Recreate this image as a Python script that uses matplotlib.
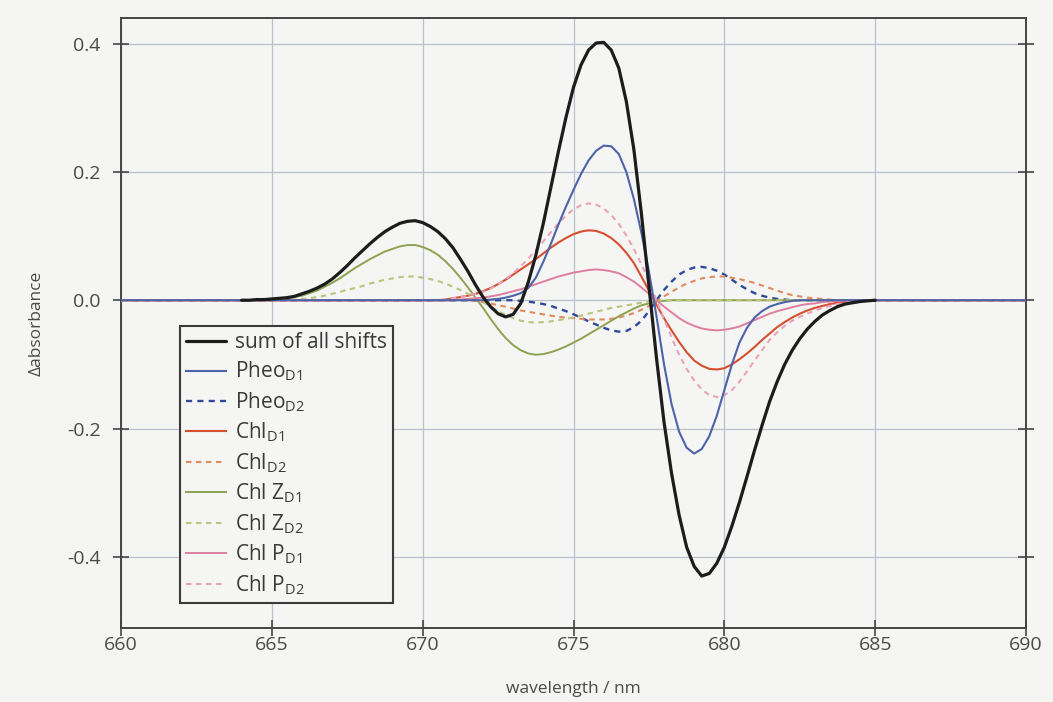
import numpy as np
import matplotlib
matplotlib.use("Agg")
import matplotlib.pyplot as plt
from matplotlib.ticker import FixedLocator, FuncFormatter

plt.rcParams["font.family"] = ["Open Sans", "DejaVu Sans"]
plt.rcParams["mathtext.fontset"] = "custom"
plt.rcParams["mathtext.rm"] = "Open Sans"
plt.rcParams["mathtext.default"] = "regular"

# wavelength grid (nm) on which the band-shift spectra are tabulated
STEP = 0.25
wavelength = np.arange(664.0, 686.0 + STEP / 2, STEP)

# sum of all electrochromic shifts, starting at 664.0 nm
sum_start = 664.0
sum_all = [0.000, 0.000, 0.001, 0.001, 0.002, 0.003, 0.004, 0.006, 0.010, 0.014,
           0.019, 0.025, 0.033, 0.043, 0.054, 0.066, 0.077, 0.088, 0.098, 0.107,
           0.114, 0.120, 0.123, 0.124, 0.121, 0.115, 0.107, 0.096, 0.082, 0.064,
           0.045, 0.024, 0.005, -0.010, -0.021, -0.026, -0.022, -0.005, 0.028, 0.070,
           0.120, 0.176, 0.232, 0.285, 0.332, 0.367, 0.390, 0.401, 0.402, 0.390,
           0.362, 0.310, 0.235, 0.135, 0.022, -0.090, -0.190, -0.270, -0.335, -0.385,
           -0.415, -0.430, -0.426, -0.410, -0.385, -0.352, -0.315, -0.275, -0.234, -0.195,
           -0.158, -0.127, -0.100, -0.078, -0.060, -0.045, -0.033, -0.023, -0.016, -0.010,
           -0.006, -0.004, -0.002, -0.001, 0.000]

# individual pigment contributions: first wavelength with signal, then values
pheo_d1_start = 672.25
pheo_d1 = [0.001, 0.002, 0.004, 0.007, 0.011, 0.019, 0.035, 0.060, 0.088, 0.118,
           0.146, 0.172, 0.197, 0.218, 0.233, 0.241, 0.240, 0.228, 0.200, 0.158,
           0.105, 0.045, -0.025, -0.100, -0.162, -0.205, -0.230, -0.239, -0.232, -0.212,
           -0.180, -0.140, -0.100, -0.066, -0.043, -0.027, -0.017, -0.010, -0.006, -0.003,
           -0.001]

pheo_d2_start = 673.25
pheo_d2 = [-0.001, -0.002, -0.004, -0.006, -0.009, -0.013, -0.017, -0.022, -0.027, -0.033,
           -0.038, -0.043, -0.047, -0.049, -0.048, -0.042, -0.032, -0.017, 0.000, 0.016,
           0.029, 0.040, 0.047, 0.051, 0.052, 0.050, 0.046, 0.040, 0.032, 0.024,
           0.017, 0.011, 0.007, 0.004, 0.002, 0.001]

chl_d1_start = 670.75
chl_d1 = [0.001, 0.003, 0.005, 0.007, 0.010, 0.014, 0.019, 0.025, 0.032, 0.040,
          0.048, 0.056, 0.064, 0.073, 0.082, 0.090, 0.097, 0.103, 0.107, 0.109,
          0.108, 0.104, 0.097, 0.087, 0.074, 0.058, 0.037, 0.015, -0.007, -0.028,
          -0.047, -0.065, -0.081, -0.094, -0.102, -0.107, -0.108, -0.106, -0.100, -0.092,
          -0.083, -0.073, -0.062, -0.052, -0.042, -0.034, -0.027, -0.021, -0.016, -0.012,
          -0.009, -0.006, -0.004, -0.003, -0.002, -0.001]

chl_d2_start = 671.75
chl_d2 = [-0.001, -0.003, -0.005, -0.008, -0.010, -0.013, -0.016, -0.018, -0.020, -0.022,
          -0.024, -0.026, -0.027, -0.028, -0.029, -0.030, -0.030, -0.030, -0.029, -0.027,
          -0.024, -0.020, -0.015, -0.009, -0.002, 0.006, 0.013, 0.020, 0.026, 0.030,
          0.034, 0.036, 0.037, 0.037, 0.035, 0.033, 0.030, 0.027, 0.023, 0.019,
          0.015, 0.011, 0.008, 0.006, 0.004, 0.003, 0.002, 0.001]

chlz_d1_start = 664.75
chlz_d1 = [0.000, 0.001, 0.002, 0.003, 0.005, 0.007, 0.011, 0.015, 0.021, 0.027,
           0.034, 0.042, 0.050, 0.057, 0.064, 0.070, 0.076, 0.080, 0.084, 0.086,
           0.086, 0.083, 0.078, 0.071, 0.061, 0.049, 0.035, 0.020, 0.004, -0.012,
           -0.029, -0.045, -0.059, -0.070, -0.078, -0.083, -0.085, -0.084, -0.081, -0.077,
           -0.072, -0.066, -0.060, -0.053, -0.046, -0.039, -0.032, -0.025, -0.019, -0.013,
           -0.008, -0.005, -0.002, -0.001]

chlz_d2_start = 665.25
chlz_d2 = [0.000, 0.001, 0.001, 0.002, 0.003, 0.005, 0.007, 0.010, 0.013, 0.016,
           0.019, 0.022, 0.026, 0.029, 0.032, 0.034, 0.036, 0.037, 0.037, 0.035,
           0.033, 0.030, 0.026, 0.021, 0.016, 0.010, 0.004, -0.003, -0.010, -0.017,
           -0.023, -0.028, -0.032, -0.034, -0.035, -0.034, -0.033, -0.031, -0.029, -0.027,
           -0.024, -0.021, -0.018, -0.015, -0.012, -0.010, -0.008, -0.006, -0.004, -0.002,
           -0.001]

chlp_d1_start = 671.25
chlp_d1 = [0.001, 0.002, 0.003, 0.004, 0.006, 0.008, 0.011, 0.014, 0.017, 0.021,
           0.025, 0.029, 0.033, 0.037, 0.040, 0.043, 0.045, 0.047, 0.048, 0.047,
           0.045, 0.042, 0.036, 0.029, 0.020, 0.010, 0.000, -0.010, -0.019, -0.028,
           -0.035, -0.040, -0.044, -0.046, -0.047, -0.046, -0.044, -0.041, -0.036, -0.031,
           -0.026, -0.021, -0.017, -0.014, -0.011, -0.008, -0.006, -0.005, -0.003, -0.002,
           -0.001, -0.001]

chlp_d2_start = 670.75
chlp_d2 = [0.001, 0.003, 0.005, 0.007, 0.010, 0.013, 0.018, 0.025, 0.033, 0.042,
           0.053, 0.065, 0.078, 0.092, 0.106, 0.120, 0.132, 0.142, 0.148, 0.151,
           0.149, 0.143, 0.133, 0.119, 0.101, 0.080, 0.056, 0.030, 0.000, -0.030,
           -0.058, -0.085, -0.107, -0.125, -0.139, -0.148, -0.151, -0.148, -0.140, -0.127,
           -0.111, -0.094, -0.078, -0.062, -0.050, -0.040, -0.032, -0.026, -0.021, -0.016,
           -0.012, -0.009, -0.006, -0.004, -0.002, -0.001]

x_ticks = [660, 665, 670, 675, 680, 685, 690]
y_ticks = [-0.4, -0.2, 0.0, 0.2, 0.4]
x_limits = (660, 690)
y_limits = (-0.511, 0.440)


def on_grid(start, values):
    """Place a spectrum on the common wavelength grid (zero elsewhere)."""
    full = np.zeros_like(wavelength)
    i0 = int(round((start - wavelength[0]) / STEP))
    full[i0:i0 + len(values)] = values
    return full


def padded(y):
    """Extend a component spectrum with its zero baseline to the axis limits."""
    return (np.concatenate([[x_limits[0]], wavelength, [x_limits[1]]]),
            np.concatenate([[0.0], y, [0.0]]))


bg = "#f5f5f4"
text_col = "#4a4a4a"

fig = plt.figure(figsize=(10.53, 7.02), dpi=100, facecolor=bg)
ax = fig.add_axes([0.1149, 0.1054, 0.8595, 0.869])
ax.set_facecolor(bg)

components = [
    (pheo_d1_start, pheo_d1, "Pheo$_{D1}$", "#4d63a8", "-", 1.5, 6),
    (pheo_d2_start, pheo_d2, "Pheo$_{D2}$", "#2f4a98", "--", 1.7, 3),
    (chl_d1_start, chl_d1, "Chl$_{D1}$", "#d5502f", "-", 1.5, 3),
    (chl_d2_start, chl_d2, "Chl$_{D2}$", "#e28a5e", "--", 1.5, 3),
    (chlz_d1_start, chlz_d1, "Chl Z$_{D1}$", "#8ea24f", "-", 1.4, 3),
    (chlz_d2_start, chlz_d2, "Chl Z$_{D2}$", "#b9c47c", "--", 1.5, 3),
    (chlp_d1_start, chlp_d1, "Chl P$_{D1}$", "#de7fa1", "-", 1.4, 3),
    (chlp_d2_start, chlp_d2, "Chl P$_{D2}$", "#e9a2bb", "--", 1.5, 3),
]

handles = []
sum_y = on_grid(sum_start, sum_all)
n_sum = int(round((sum_start - wavelength[0]) / STEP)) + len(sum_all)
h_sum, = ax.plot(wavelength[:n_sum], sum_y[:n_sum], color="#1c1c1c", lw=2.3,
                 zorder=8, solid_capstyle="round", solid_joinstyle="round",
                 label="sum of all shifts")
handles.append(h_sum)
for start, vals, label, col, ls, lw, z in components:
    xs, ys = padded(on_grid(start, vals))
    kw = dict(dashes=(2.6, 2.2)) if ls == "--" else {}
    h, = ax.plot(xs, ys, color=col, lw=lw, zorder=z, label=label, **kw)
    handles.append(h)

ax.set_xlim(*x_limits)
ax.set_ylim(*y_limits)
ax.xaxis.set_major_locator(FixedLocator(x_ticks))
ax.yaxis.set_major_locator(FixedLocator(y_ticks))
ax.yaxis.set_major_formatter(FuncFormatter(lambda v, p: f"{v:.1f}"))
ax.grid(True, color="#bcbfcc", lw=0.9, zorder=1)
ax.set_axisbelow(True)

for side in ["left", "bottom", "right", "top"]:
    ax.spines[side].set_color("#454545")
    ax.spines[side].set_linewidth(1.4)

ax.tick_params(axis="both", direction="inout", length=11, width=1.2,
               color="#454545", labelcolor=text_col, labelsize=14)
ax.tick_params(axis="x", pad=0.5)
ax.tick_params(axis="y", right=True, pad=9)

ax.set_xlabel("wavelength / nm", fontsize=12.5, color=text_col, labelpad=19)
ax.set_ylabel("\u0394absorbance", fontsize=12.5, color=text_col, labelpad=16)

leg = ax.legend(handles=handles, loc="lower left", bbox_to_anchor=(0.065, 0.041),
                fontsize=15, frameon=True, fancybox=False, framealpha=1,
                facecolor=bg, edgecolor="#3a3a3a", handlelength=1.9,
                handletextpad=0.45, labelspacing=0.33, borderpad=0.3,
                borderaxespad=0)
leg.get_frame().set_linewidth(1.5)
for t in leg.get_texts():
    t.set_color("#3a3a3a")

fig.savefig("out.png", dpi=100, facecolor=bg)
